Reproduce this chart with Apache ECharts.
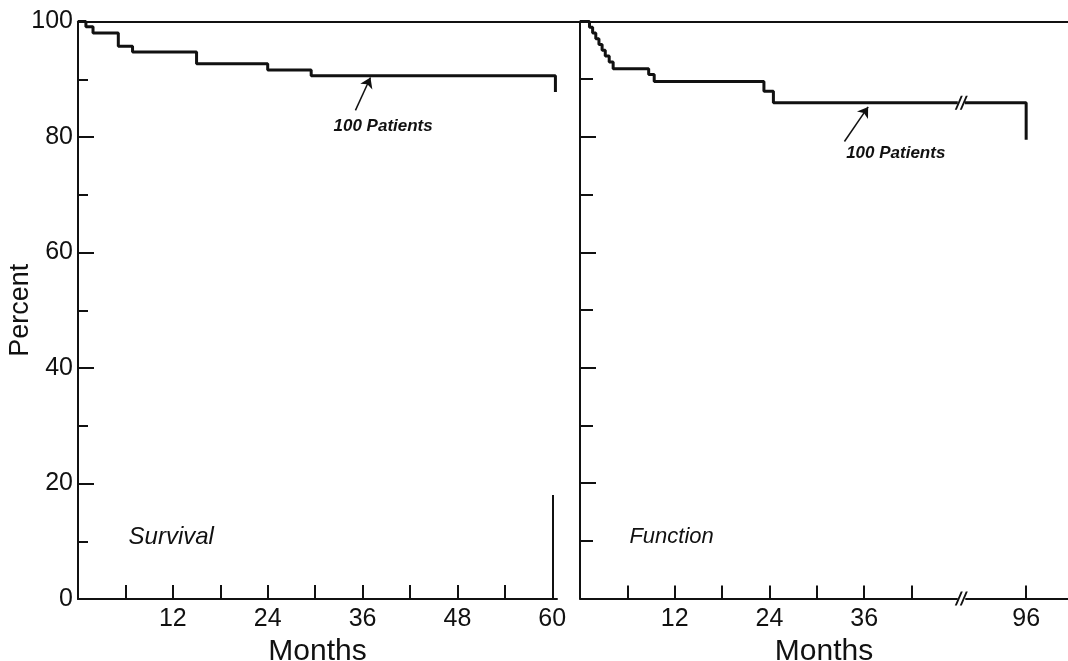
<!DOCTYPE html>
<html>
<head>
<meta charset="utf-8">
<script src="https://cdn.jsdelivr.net/npm/echarts@6/dist/echarts.min.js"></script>
<style>
html,body{margin:0;padding:0;background:#fff}
#chart{width:1068px;height:661px}
</style>
</head>
<body>
<div id="chart"></div>
<script>
// survival curve: months, percent (value from that month on)
var survivalMonths = [0, 1.0, 1.9, 5.1, 6.9, 15.0, 24.0, 29.5, 60.4];
var survivalPercent = [100, 99.1, 98, 95.7, 94.7, 92.7, 91.6, 90.6, 87.8];
// function curve
var functionMonths = [0, 1.2, 1.6, 2.0, 2.4, 2.8, 3.2, 3.7, 4.2, 8.7, 9.4, 23.3, 24.5, 96];
var functionPercent = [100, 99, 98, 97, 96, 95, 94, 93, 91.8, 90.8, 89.6, 87.9, 85.9, 79.5];
// axes
var survivalTicks = [6, 12, 18, 24, 30, 36, 42, 48, 54, 60];
var survivalLabels = [12, 24, 36, 48, 60];
var functionTicks = [6, 12, 18, 24, 30, 36, 42, 96];
var functionLabels = [12, 24, 36, 96];
var breakFrom = 48.3, breakTo = 88.4;
// vertical bar at the end of the survival axis (month, percent)
var survivalBar = [60, 18];
// arrows to the curves: [tail, tip]
var survivalArrow = [[35.1, 84.6], [37.0, 90.3]];
var functionArrow = [[33.5, 79.2], [36.5, 85.2]];
var patientsText = '100 Patients';

var FONT = 'Liberation Sans';
var BLACK = '#111';

function pairs(xs, ys){
	var out = [];
	for(var i = 0; i < xs.length; i++){
		out.push([xs[i], ys[i]]);
	}
	return out;
}

function textPoint(name, coord, size, weight){
	return {
		name: name,
		coord: coord,
		symbol: 'rect',
		symbolSize: 1,
		itemStyle: {color: 'rgba(0,0,0,0)'},
		label: {
			show: true, position: 'inside', formatter: '{b}',
			color: BLACK, fontFamily: FONT, fontStyle: 'italic', fontWeight: weight || 'normal', fontSize: size
		}
	};
}

var slashes = 'path://M0,14 L6,0 L8,0 L2,14 Z M5,14 L11,0 L13,0 L7,14 Z';
function breakMark(coord){
	return [
		{coord: coord, symbol: 'rect', symbolSize: [7, 6], itemStyle: {color: '#fff'}, label: {show: false}},
		{coord: coord, symbol: slashes, symbolSize: [13, 14], itemStyle: {color: BLACK}, label: {show: false}}
	];
}

function yAxisOpt(gridIndex, showLabels, minorLen){
	return {
		type: 'value', gridIndex: gridIndex, min: 0, max: 100, interval: 20,
		name: showLabels ? 'Percent' : '', nameLocation: 'middle', nameGap: 44, nameRotate: 90,
		nameMoveOverlap: false,
		nameTextStyle: {color: BLACK, fontFamily: FONT, fontSize: 27},
		axisLine: {show: true, lineStyle: {color: BLACK, width: 2}},
		axisTick: {show: true, inside: true, length: 16, lineStyle: {color: BLACK, width: 2}},
		minorTick: {show: true, splitNumber: 2, length: minorLen, lineStyle: {color: BLACK, width: 2}},
		axisLabel: {show: showLabels, margin: 5, color: BLACK, fontFamily: FONT, fontSize: 25},
		splitLine: {show: false}
	};
}

function xAxisOpt(gridIndex, max, ticks, labels, tickLen){
	return {
		type: 'value', gridIndex: gridIndex, min: 0, max: max,
		name: 'Months', nameLocation: 'middle', nameGap: 38, nameMoveOverlap: false,
		nameTextStyle: {color: BLACK, fontFamily: FONT, fontSize: 30},
		axisLine: {show: true, onZero: false, lineStyle: {color: BLACK, width: 2}},
		axisTick: {show: true, inside: true, length: tickLen, customValues: ticks, lineStyle: {color: BLACK, width: 2}},
		axisLabel: {show: true, margin: 8, customValues: labels, color: BLACK, fontFamily: FONT, fontSize: 25},
		splitLine: {show: false}
	};
}

var chart = echarts.init(document.getElementById('chart'), null, {renderer: 'canvas'});

var leftAxis = xAxisOpt(0, 60.6, survivalTicks, survivalLabels, 14);
var rightAxis = xAxisOpt(1, 101.3, functionTicks, functionLabels, 13);
rightAxis.breaks = [{start: breakFrom, end: breakTo, gap: '1%'}];
rightAxis.breakArea = {show: false, expandOnClick: false};

var option = {
	animation: false,
	backgroundColor: '#fff',
	grid: [
		{left: 78, top: 21.5, width: 479, height: 577.5, outerBoundsMode: 'none', containLabel: false},
		{left: 580, top: 21.5, width: 488, height: 577, outerBoundsMode: 'none', containLabel: false},
		{left: 78, top: 21.5, width: 990, height: 577, outerBoundsMode: 'none', containLabel: false}
	],
	xAxis: [
		leftAxis,
		rightAxis,
		{
			type: 'value', gridIndex: 2, position: 'top', min: 0, max: 1,
			axisLine: {show: true, onZero: false, lineStyle: {color: BLACK, width: 2}},
			axisTick: {show: false}, axisLabel: {show: false}, splitLine: {show: false}
		}
	],
	yAxis: [
		yAxisOpt(0, true, 10),
		yAxisOpt(1, false, 13),
		{type: 'value', gridIndex: 2, show: false, min: 0, max: 1, splitLine: {show: false}}
	],
	series: [
		{
			name: 'Survival', type: 'line', xAxisIndex: 0, yAxisIndex: 0,
			step: 'end', symbol: 'none', clip: false, silent: true,
			lineStyle: {color: BLACK, width: 3},
			data: pairs(survivalMonths, survivalPercent),
			markLine: {
				silent: true, animation: false, label: {show: false},
				data: [
					[{coord: [survivalBar[0], 0], symbol: 'none'}, {coord: survivalBar, symbol: 'none', lineStyle: {color: BLACK, width: 2, type: 'solid'}}],
					[{coord: survivalArrow[0], symbol: 'none'}, {coord: survivalArrow[1], symbol: 'arrow', symbolSize: 10, lineStyle: {color: BLACK, width: 1.5, type: 'solid'}}]
				],
				lineStyle: {color: BLACK, width: 2, type: 'solid'}
			},
			markPoint: {
				silent: true, animation: false,
				data: [
					textPoint(patientsText, [38.6, 81.9], 17, 'bold'),
					textPoint('Survival', [11.8, 10.7], 24)
				]
			}
		},
		{
			name: 'Function', type: 'line', xAxisIndex: 1, yAxisIndex: 1,
			step: 'end', symbol: 'none', clip: false, silent: true,
			lineStyle: {color: BLACK, width: 3},
			data: pairs(functionMonths, functionPercent),
			markLine: {
				silent: true, animation: false, label: {show: false},
				lineStyle: {color: BLACK, width: 1.5, type: 'solid'},
				data: [
					[{coord: functionArrow[0], symbol: 'none'}, {coord: functionArrow[1], symbol: 'arrow', symbolSize: 10}]
				]
			},
			markPoint: {
				silent: true, animation: false,
				data: [
					textPoint(patientsText, [40.0, 77.2], 17, 'bold'),
					textPoint('Function', [11.6, 10.7], 22)
				].concat(breakMark([breakFrom, 85.9])).concat(breakMark([breakFrom, 0]))
			}
		}
	]
};
chart.setOption(option);
</script>
</body>
</html>
